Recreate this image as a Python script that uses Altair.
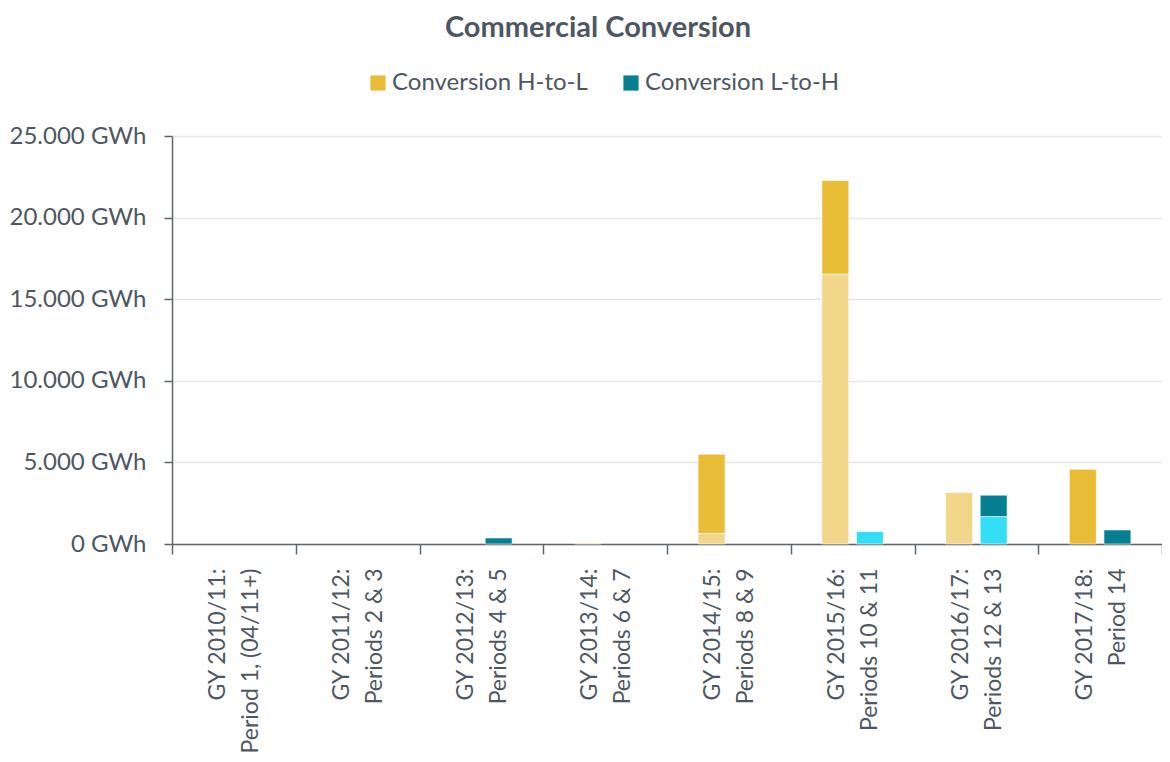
import altair as alt
import pandas as pd

categories = [
    "GY 2010/11:|Period 1, (04/11+)",
    "GY 2011/12:|Periods 2 & 3",
    "GY 2012/13:|Periods 4 & 5",
    "GY 2013/14:|Periods 6 & 7",
    "GY 2014/15:|Periods 8 & 9",
    "GY 2015/16:|Periods 10 & 11",
    "GY 2016/17:|Periods 12 & 13",
    "GY 2017/18:|Period 14",
]
htl_base = [0, 0, 0, 60, 640, 16540, 3150, 0]
htl_top = [0, 0, 0, 0, 4860, 5730, 0, 4580]
lth_base = [0, 0, 0, 0, 0, 760, 1680, 0]
lth_top = [0, 0, 370, 0, 0, 0, 1310, 860]

series_names = ["H-to-L base", "Conversion H-to-L", "L-to-H base", "Conversion L-to-H"]
series_colors = ["#F2D68A", "#E9BC35", "#33DDF5", "#058090"]

rows = []
for i, c in enumerate(categories):
    rows.append({"cat": c, "group": "H-to-L", "series": series_names[0], "ord": 0, "value": htl_base[i]})
    rows.append({"cat": c, "group": "H-to-L", "series": series_names[1], "ord": 1, "value": htl_top[i]})
    rows.append({"cat": c, "group": "L-to-H", "series": series_names[2], "ord": 0, "value": lth_base[i]})
    rows.append({"cat": c, "group": "L-to-H", "series": series_names[3], "ord": 1, "value": lth_top[i]})
df = pd.DataFrame(rows)

TXT = "#4E5761"
AX = "#5F656C"
FONT = "Lato"

chart = alt.Chart(df).transform_filter(
    alt.datum.value > 0
).mark_bar(stroke="white", strokeWidth=0.6).encode(
    x=alt.X(
        "cat:N",
        sort=categories,
        title=None,
        scale=alt.Scale(domain=categories, paddingInner=0, paddingOuter=0),
        axis=alt.Axis(
            labelAngle=270,
            labelAlign="right",
            labelBaseline="middle",
            labelExpr="split(datum.label, '|')",
            labelFontSize=23,
            labelLineHeight=33,
            labelPadding=14,
            labelOffset=-16,
            labelColor=TXT,
            labelFont=FONT,
            tickBand="extent",
            tickSize=10,
            tickColor=AX,
            tickWidth=1.5,
            domainColor=AX,
            domainWidth=1.5,
            grid=False,
            labelLimit=400,
        ),
    ),
    xOffset=alt.XOffset(
        "group:N",
        scale=alt.Scale(domain=["H-to-L", "L-to-H"], paddingInner=0.222, paddingOuter=0.9),
    ),
    y=alt.Y(
        "value:Q",
        stack="zero",
        title=None,
        scale=alt.Scale(domain=[0, 25000], nice=False),
        axis=alt.Axis(
            values=[0, 5000, 10000, 15000, 20000, 25000],
            labelExpr="replace(format(datum.value, ','), ',', '.') + ' GWh'",
            labelFontSize=24,
            labelColor=TXT,
            labelFont=FONT,
            labelPadding=18,
            tickSize=8,
            tickColor=AX,
            tickWidth=1.5,
            domainColor=AX,
            domainWidth=1.5,
            gridColor="#E6E6E6",
            gridWidth=1.5,
        ),
    ),
    color=alt.Color(
        "series:N",
        scale=alt.Scale(domain=series_names, range=series_colors),
        legend=alt.Legend(
            values=["Conversion H-to-L", "Conversion L-to-H"],
            title=None,
            orient="none",
            legendX=194,
            legendY=-65,
            direction="horizontal",
            symbolType="square",
            symbolSize=230,
            symbolStrokeWidth=0,
            labelFontSize=24,
            labelColor=TXT,
            labelFont=FONT,
            labelLimit=400,
            columnPadding=31,
            labelOffset=2,
        ),
    ),
    order=alt.Order("ord:Q"),
).properties(
    width=990,
    height=408,
    autosize=alt.AutoSizeParams(type="none"),
    padding={"left": 164, "top": 128, "right": 0, "bottom": 210},
    title=alt.TitleParams(
        "Commercial Conversion",
        fontSize=29,
        font=FONT,
        fontWeight="bold",
        color=TXT,
        anchor="middle",
        frame="group",
        dx=-69,
        offset=28,
    ),
).configure_view(stroke=None)

chart.save("out.html", embed_options={"renderer": "svg", "actions": False})
